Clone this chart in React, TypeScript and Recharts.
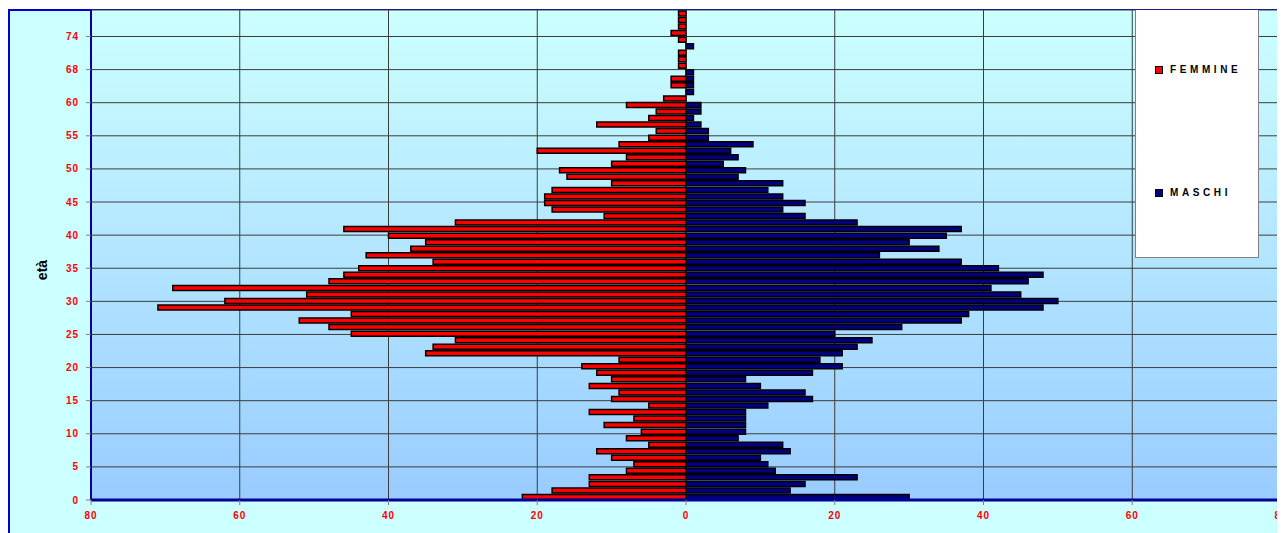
import { BarChart, Bar, XAxis, YAxis, CartesianGrid, Legend, Label } from "recharts";

// età (categorie dell'asse verticale, dal basso verso l'alto)
const eta = [
  "0", "1", "2", "3", "4", "5", "6", "7", "8", "9",
  "10", "11", "12", "13", "14", "15", "16", "17", "18", "19",
  "20", "21", "22", "23", "24", "25", "26", "27", "28", "29",
  "30", "31", "32", "33", "34", "35", "36", "37", "38", "39",
  "40", "41", "42", "43", "44", "45", "46", "47", "48", "49",
  "50", "51", "52", "53", "54", "55", "56", "57", "58", "59",
  "60", "62", "63", "64", "66", "68", "69", "70", "71", "73",
  "74", "75", "77", "78", "80",
];

const femmine = [
  22, 18, 13, 13, 8, 7, 10, 12, 5, 8,
  6, 11, 7, 13, 5, 10, 9, 13, 10, 12,
  14, 9, 35, 34, 31, 45, 48, 52, 45, 71,
  62, 51, 69, 48, 46, 44, 34, 43, 37, 35,
  40, 46, 31, 11, 18, 19, 19, 18, 10, 16,
  17, 10, 8, 20, 9, 5, 4, 12, 5, 4,
  8, 3, 0, 2, 2, 0, 1, 1, 1, 0,
  1, 2, 1, 1, 1,
];

const maschi = [
  30, 14, 16, 23, 12, 11, 10, 14, 13, 7,
  8, 8, 8, 8, 11, 17, 16, 10, 8, 17,
  21, 18, 21, 23, 25, 20, 29, 37, 38, 48,
  50, 45, 41, 46, 48, 42, 37, 26, 34, 30,
  35, 37, 23, 16, 13, 16, 13, 11, 13, 7,
  8, 5, 7, 6, 9, 3, 3, 2, 1, 2,
  2, 0, 1, 1, 1, 1, 0, 0, 0, 1,
  0, 0, 0, 0, 0,
];

const xTicks = [-80, -60, -40, -20, 0, 20, 40, 60, 80];
// posizioni (indice di categoria) delle etichette sull'asse delle età
const yTicks = [0, 5, 10, 15, 20, 25, 30, 35, 40, 45, 50, 55, 60, 65, 70];

const data = eta.map((e, i) => ({ eta: e, femmine: -femmine[i], maschi: maschi[i] }));

const FONT = "Arial, 'Liberation Sans', sans-serif";
const tickStyle = { fill: "#ff0000", fontSize: 10, fontWeight: 700, fontFamily: FONT, letterSpacing: 1 };

const Legenda = (props: any) => {
  const items = props.payload || [];
  return (
    <div
      style={{
        position: "relative",
        width: 124,
        height: 248,
        boxSizing: "border-box",
        background: "#ffffff",
        border: "1px solid #808080",
        borderTop: "none",
        fontFamily: FONT,
      }}
    >
      {items.map((it: any, i: number) => (
        <div
          key={it.value}
          style={{ position: "absolute", left: 19, top: i === 0 ? 54 : 177, display: "flex", alignItems: "center" }}
        >
          <span style={{ width: 6, height: 6, background: it.color, border: "1px solid #000" }} />
          <span style={{ marginLeft: 7, fontSize: 10, fontWeight: 700, letterSpacing: 3.6, color: "#000" }}>
            {it.value}
          </span>
        </div>
      ))}
    </div>
  );
};

export default function App() {
  return (
    <div style={{ position: "relative", width: 1277, height: 525 }}>
      <div
        style={{
          position: "absolute",
          left: 0,
          top: 1,
          width: 1274,
          height: 560,
          boxSizing: "border-box",
          background: "#ccffff",
          border: "2px solid #0000cc",
        }}
      />
      <div style={{ position: "absolute", left: 0, top: 0 }}>
        <BarChart
          width={1277}
          height={525}
          data={data}
          layout="vertical"
          stackOffset="sign"
          barCategoryGap={1}
          margin={{ top: 2, right: 4, bottom: 3, left: 0 }}
        >
          <defs>
            <linearGradient id="sfondo" x1="0" y1="0" x2="0" y2="1">
              <stop offset="0%" stopColor="#ccffff" />
              <stop offset="100%" stopColor="#99ccff" />
            </linearGradient>
          </defs>
          <CartesianGrid
            yAxisId="num"
            fill="url(#sfondo)"
            stroke="#3c3c3c"
            strokeWidth={1}
          />
          <XAxis
            type="number"
            domain={[-80, 80]}
            ticks={xTicks}
            interval={0}
            tickFormatter={(v: number) => String(Math.abs(v))}
            tick={tickStyle}
            tickSize={5}
            tickMargin={7}
            tickLine={{ stroke: "#808080" }}
            axisLine={{ stroke: "#000099", strokeWidth: 3 }}
            height={30}
          />
          <YAxis
            yAxisId="cat"
            type="category"
            dataKey="eta"
            orientation="right"
            width={0}
            reversed
            hide
          />
          <YAxis
            yAxisId="num"
            type="number"
            domain={[0, 75]}
            ticks={yTicks}
            interval={0}
            reversed
            tickFormatter={(v: number) => eta[v] ?? ""}
            tick={tickStyle}
            tickSize={5}
            tickMargin={7}
            tickLine={{ stroke: "#808080" }}
            axisLine={{ stroke: "#000099", strokeWidth: 2 }}
            width={83}
          >
            <Label
              content={(p: any) => {
                const vb = p.viewBox || {};
                const cx = (vb.x || 0) + 34;
                const cy = (vb.y || 0) + vb.height / 2 + 15;
                return (
                  <text
                    x={cx}
                    y={cy}
                    transform={`rotate(-90 ${cx} ${cy})`}
                    textAnchor="middle"
                    dominantBaseline="central"
                    fontFamily={FONT}
                    fontWeight={700}
                    fontSize={14}
                    fill="#000"
                  >
                    età
                  </text>
                );
              }}
            />
          </YAxis>
          <Legend
            layout="vertical"
            align="center"
            verticalAlign="middle"
            content={Legenda}
            wrapperStyle={{ position: "absolute", left: 1127, top: 2, width: 124, height: 248 }}
          />
          <Bar
            yAxisId="cat"
            dataKey="femmine"
            name="FEMMINE"
            stackId="p"
            fill="#ff0000"
            stroke="#000000"
            strokeWidth={1.5}
            isAnimationActive={false}
          />
          <Bar
            yAxisId="cat"
            dataKey="maschi"
            name="MASCHI"
            stackId="p"
            fill="#000080"
            stroke="#000000"
            strokeWidth={1.5}
            isAnimationActive={false}
          />
        </BarChart>
      </div>
    </div>
  );
}
